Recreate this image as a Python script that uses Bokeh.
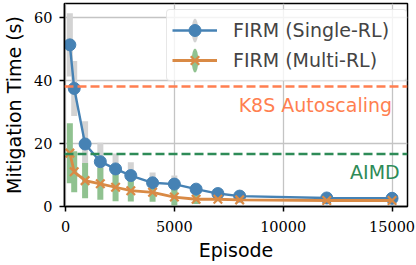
from bokeh.plotting import figure
from bokeh.models import Range1d, FixedTicker, Span, Legend, LegendItem
from bokeh.core.properties import value
from bokeh.embed import file_html
from bokeh.resources import INLINE

# ---- data ----
episodes = [200, 400, 900, 1600, 2300, 3000, 4000, 5000, 6000, 7000, 8000, 12000, 15000]
single_mean = [51.2, 37.4, 19.8, 14.2, 11.9, 9.8, 7.5, 7.1, 5.5, 4.1, 3.3, 2.7, 2.6]
single_std = [10.0, 8.7, 7.2, 6.0, 4.9, 4.2, 3.3, 2.7, 1.2, 0.6, 0.5, 0.4, 0.4]
multi_mean = [16.9, 11.0, 8.2, 7.2, 6.1, 5.0, 4.5, 3.0, 2.3, 2.3, 2.1, 1.9, 1.9]
multi_std = [9.5, 6.5, 5.6, 5.1, 4.4, 3.4, 3.0, 2.7, 1.5, 0.6, 0.5, 0.4, 0.4]
k8s_level = 38.0
aimd_level = 16.6
x_ticks = [0, 5000, 10000, 15000]
y_ticks = [0, 20, 40, 60]
single_label = "FIRM (Single-RL)"
multi_label = "FIRM (Multi-RL)"
k8s_text = "K8S Autoscaling"
aimd_text = "AIMD"
k8s_text_pos = (15000, 32.3)
aimd_text_pos = (15350, 10.9)

BLUE = "#4682b4"
ORANGE = "#d98a45"
GRAYBAR = "#d3d3d3"
GREENBAR = "#90c290"
CORAL = "#ff7f50"
SEAGREEN = "#2e8b57"
SANS = "DejaVu Sans"
SERIF = "DejaVu Serif"

p = figure(width=416, height=265,
           x_range=Range1d(-46, 15710), y_range=Range1d(0, 64.3),
           output_backend="svg", toolbar_location=None,
           min_border_left=62, min_border_right=9, min_border_top=3, min_border_bottom=59)

s_lo = [m - s for m, s in zip(single_mean, single_std)]
s_hi = [m + s for m, s in zip(single_mean, single_std)]
m_lo = [max(0, m - s) for m, s in zip(multi_mean, multi_std)]
m_hi = [m + s for m, s in zip(multi_mean, multi_std)]

p.segment(x0=episodes, y0=s_lo, x1=episodes, y1=s_hi, line_color=GRAYBAR, line_width=6)
p.segment(x0=episodes, y0=m_lo, x1=episodes, y1=m_hi, line_color=GREENBAR, line_width=6)

bl = p.line(episodes, single_mean, line_color=BLUE, line_width=2.4)
bs = p.scatter(episodes, single_mean, marker="circle", size=12, fill_color=BLUE, line_color=BLUE)
ol = p.line(episodes, multi_mean, line_color=ORANGE, line_width=2.8)
os_ = p.scatter(episodes, multi_mean, marker="x", size=12, line_color=ORANGE, line_width=2.2)

# off-range thin ellipses used only as the legend's error-bar glyphs
eb1 = p.ellipse(x=[-8000], y=[-50], width=6, height=22, width_units="screen", height_units="screen",
                fill_color=GRAYBAR, line_color=None)
eb2 = p.ellipse(x=[-8000], y=[-50], width=6, height=22, width_units="screen", height_units="screen",
                fill_color=GREENBAR, line_color=None)

p.add_layout(Span(location=k8s_level, dimension="width", line_color=CORAL,
                  line_dash="9 4", line_width=2.5))
p.add_layout(Span(location=aimd_level, dimension="width", line_color=SEAGREEN,
                  line_dash="9 4", line_width=2.5))

p.text(x=[k8s_text_pos[0]], y=[k8s_text_pos[1]], text=[k8s_text], text_align="right",
       text_baseline="middle", text_color=CORAL, text_font=value(SANS), text_font_size="19px")
p.text(x=[aimd_text_pos[0]], y=[aimd_text_pos[1]], text=[aimd_text], text_align="right",
       text_baseline="middle", text_color=SEAGREEN, text_font=value(SANS), text_font_size="19px")

# axes
for ax in (p.xaxis[0], p.yaxis[0]):
    ax.major_tick_in = 0
    ax.major_tick_out = 5
    ax.minor_tick_line_color = None
    ax.major_tick_line_width = 1.5
    ax.axis_line_width = 1.5
    ax.axis_line_color = "black"
    ax.major_tick_line_color = "black"
    ax.major_label_text_font = SERIF
    ax.major_label_text_font_size = "14.5px"
    ax.major_label_text_color = "black"
    ax.axis_label_text_font = SANS
    ax.axis_label_text_font_size = "19px"
    ax.axis_label_text_font_style = "normal"
    ax.axis_label_text_color = "black"

p.xaxis.ticker = FixedTicker(ticks=x_ticks)
p.yaxis.ticker = FixedTicker(ticks=y_ticks)
p.xaxis.axis_label = "Episode"
p.yaxis.axis_label = "Mitigation Time (s)"
p.yaxis.major_label_standoff = 7
p.xaxis.major_label_standoff = 9
p.yaxis.axis_label_standoff = 6
p.xaxis.axis_label_standoff = 4

p.xgrid.ticker = FixedTicker(ticks=x_ticks)
p.ygrid.ticker = FixedTicker(ticks=y_ticks)
p.grid.grid_line_color = "#c4c4c4"
p.grid.grid_line_width = 1.3

p.outline_line_color = "black"
p.outline_line_width = 1.5
p.outline_line_alpha = 1.0
p.background_fill_color = "white"
p.border_fill_color = "white"

legend = Legend(items=[LegendItem(label=single_label, renderers=[eb1, bl, bs]),
                       LegendItem(label=multi_label, renderers=[eb2, ol, os_])],
                location=(102, 125), orientation="vertical",
                glyph_width=45, glyph_height=30, label_standoff=16, label_width=168,
                padding=5, spacing=0, margin=0,
                label_text_font=SANS, label_text_font_size="19px",
                border_line_color="#d0d0d0", border_line_width=1.2,
                background_fill_color="white", background_fill_alpha=0.8)
if "border_radius" in Legend.properties():
    legend.border_radius = 4
p.add_layout(legend)

open("out.html", "w").write(file_html(p, INLINE))
